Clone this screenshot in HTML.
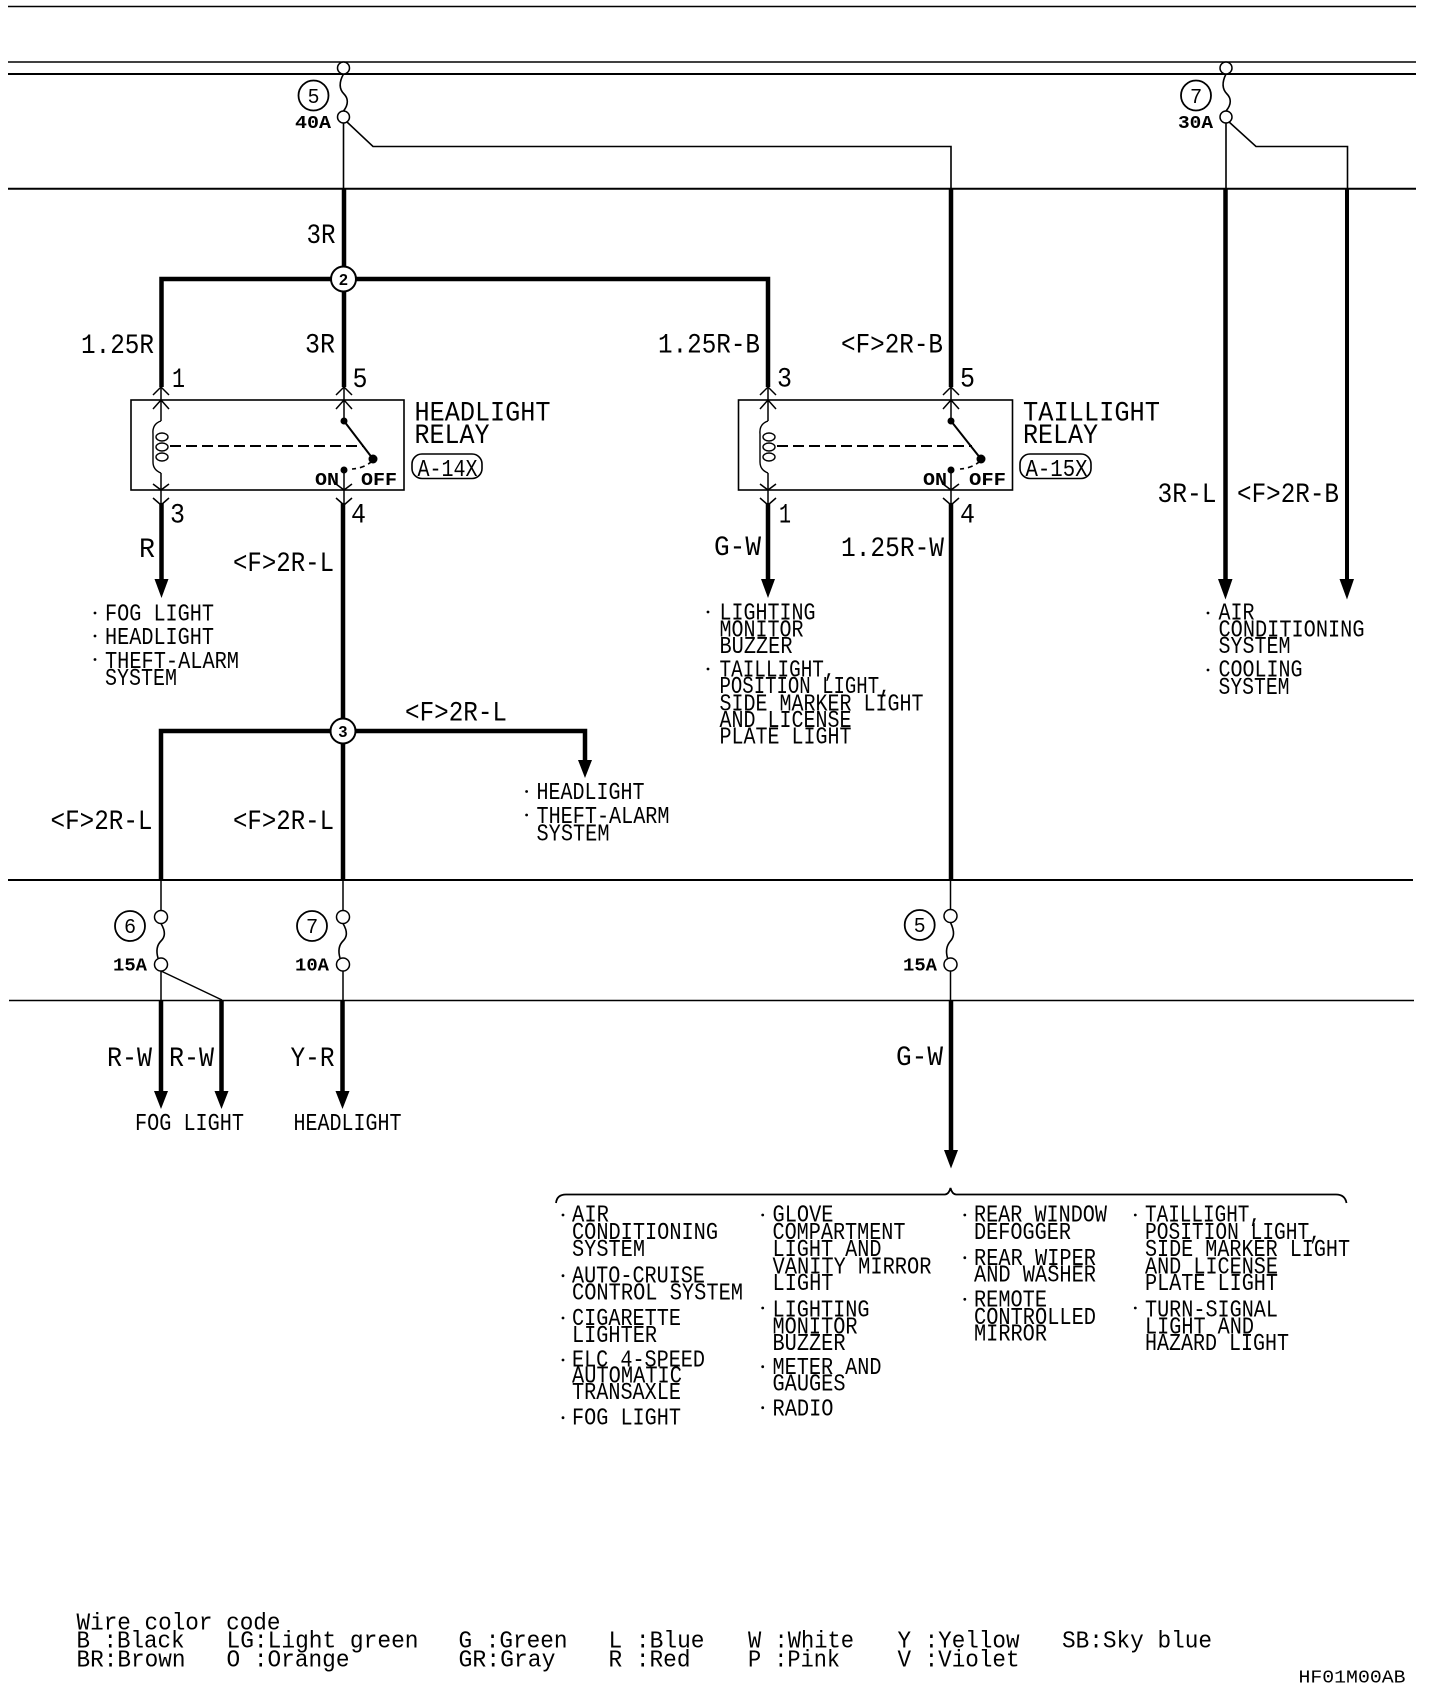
<!DOCTYPE html>
<html><head><meta charset="utf-8"><title>Headlight relay wiring diagram</title>
<style>
html,body{margin:0;padding:0;background:#fff}
svg{display:block}
text{font-family:"Liberation Mono",monospace;fill:#000}
.l{font-size:28px}
.s{font-size:24px}
.t{font-size:18px;font-weight:bold}
.c{font-size:20px;font-family:"Liberation Sans",sans-serif;text-anchor:middle}
</style></head><body>
<svg width="1440" height="1690" viewBox="0 0 1440 1690" xmlns="http://www.w3.org/2000/svg">
<rect width="1440" height="1690" fill="#fff"/>
<g stroke="#000" fill="none">
<!-- horizontal rules -->
<path d="M8 6.5H1416" stroke-width="1.6"/>
<path d="M8 62H1416" stroke-width="1.4"/>
<path d="M8 74H1416" stroke-width="2"/>
<path d="M8 188.7H1416" stroke-width="2"/>
<path d="M8 880H1413" stroke-width="2"/>
<path d="M9 1000.5H1414" stroke-width="1.6"/>
<!-- thin branches above -->
<path d="M343.5 123V188M347 122L373 146.5H951V188" stroke-width="1.6"/>
<path d="M1226 123V188M1228 121L1256 146.5H1347.5V188" stroke-width="1.6"/>
<!-- thick wires -->
<path d="M344 188V387" stroke-width="4.5"/>
<path d="M161.5 387V279H768V387" stroke-width="4.5"/>
<path d="M951 188V387" stroke-width="4.5"/>
<path d="M1225.5 188V585" stroke-width="4.5"/>
<path d="M1347 188V585" stroke-width="4"/>
<path d="M161.5 503V585" stroke-width="4.5"/>
<path d="M768 503V585" stroke-width="4.5"/>
<path d="M343 503V880" stroke-width="4.5"/>
<path d="M951 503V880" stroke-width="4.5"/>
<path d="M951 1000V1155" stroke-width="4.5"/>
<path d="M161 880V731H585V765" stroke-width="4.5"/>
<path d="M161 1000V1095" stroke-width="4.5"/>
<path d="M221.5 1000V1095" stroke-width="4.5"/>
<path d="M342.5 1000V1095" stroke-width="4.5"/>
<!-- lower thin wires -->
<path d="M161 880V911M161 971V1000M161 971L222 1000M343 880V911M343 971V1000M950.5 880V910M950.5 970V1000" stroke-width="1.5"/>
<!-- relay boxes -->
<rect x="131" y="400" width="273" height="90" stroke-width="1.6"/>
<rect x="738.5" y="400" width="274" height="90" stroke-width="1.6"/>
<!-- relay 1 internals -->
<path d="M161 387V421M161 473V503M344 387V421M344 470V503" stroke-width="1.5"/>
<path d="M161 421Q152 424 153 434V462Q153 470 161 473" stroke-width="1.4"/>
<ellipse cx="162" cy="437" rx="6" ry="4" stroke-width="1.4"/><ellipse cx="162" cy="447" rx="6" ry="4" stroke-width="1.4"/><ellipse cx="162" cy="457" rx="6" ry="4" stroke-width="1.4"/>
<path d="M344 421L373 459" stroke-width="2"/>
<path d="M170 446H363" stroke-width="2" stroke-dasharray="11 5"/>
<path d="M372 461Q365 468 352 469" stroke-width="1.6" stroke-dasharray="5 4"/>
<!-- relay 2 internals -->
<path d="M768 387V421M768 473V503M951 387V421M951 470V503" stroke-width="1.5"/>
<path d="M768 421Q759 424 760 434V462Q760 470 768 473" stroke-width="1.4"/>
<ellipse cx="769" cy="437" rx="6" ry="4" stroke-width="1.4"/><ellipse cx="769" cy="447" rx="6" ry="4" stroke-width="1.4"/><ellipse cx="769" cy="457" rx="6" ry="4" stroke-width="1.4"/>
<path d="M951 421L981 459" stroke-width="2"/>
<path d="M777 446H972" stroke-width="2" stroke-dasharray="11 5"/>
<path d="M980 461Q973 468 960 469" stroke-width="1.6" stroke-dasharray="5 4"/>
<!-- open arrows -->
<g stroke-width="1.5">
<path d="M153 395L161 387L169 395M153 409L161 400L169 409M153 484L161 490L169 484M153 498L161 505L169 498"/>
<path d="M336 395L344 387L352 395M336 409L344 400L352 409M336 484L344 490L352 484M336 498L344 505L352 498"/>
<path d="M760 395L768 387L776 395M760 409L768 400L776 409M760 484L768 490L776 484M760 498L768 505L776 498"/>
<path d="M943 395L951 387L959 395M943 409L951 400L959 409M943 484L951 490L959 484M943 498L951 505L959 498"/>
</g>
<!-- fuses -->
<g stroke-width="1.5" fill="#fff">
<circle cx="343.5" cy="68" r="6"/><circle cx="343.5" cy="117" r="6"/>
<circle cx="1226" cy="68" r="6"/><circle cx="1226" cy="117" r="6"/>
<circle cx="161" cy="917" r="6.5"/><circle cx="161" cy="964.5" r="6.5"/>
<circle cx="343" cy="917" r="6.5"/><circle cx="343" cy="964.5" r="6.5"/>
<circle cx="950.5" cy="916" r="6.5"/><circle cx="950.5" cy="964.5" r="6.5"/>
</g>
<g stroke-width="1.6">
<path d="M343.5 74C338 84 340 90 344 94S349 104 343.5 111"/>
<path d="M1226 74C1221 84 1223 90 1227 94S1232 104 1226 111"/>
<path d="M161 923.5C166 932 165 937 161 941S156 951 158 958"/>
<path d="M343 923.5C348 932 347 937 343 941S338 951 340 958"/>
<path d="M950.5 922.5C955 932 954 937 950.5 941S945.5 951 947.5 958"/>
</g>
<!-- number circles -->
<g stroke-width="1.8">
<circle cx="313.5" cy="95.5" r="15"/><circle cx="1196" cy="95.5" r="15"/>
<circle cx="130" cy="926" r="15"/><circle cx="312" cy="926" r="15"/><circle cx="919.7" cy="925" r="15"/>
</g>
<g stroke-width="2" fill="#fff">
<circle cx="343.5" cy="279" r="12.5"/><circle cx="343" cy="731" r="12.5"/>
</g>
<!-- connector tags -->
<rect x="412" y="454" width="70" height="24.5" rx="10" stroke-width="1.6"/>
<rect x="1020" y="454" width="71" height="24.5" rx="10" stroke-width="1.6"/>
<!-- brace -->
<path d="M556 1203Q557 1194.5 566 1194.5H945Q949 1194 950.5 1188Q952 1194 956 1194.5H1336Q1345 1194.5 1346.5 1203" stroke-width="1.8"/>
</g>
<!-- filled -->
<g fill="#000">
<circle cx="344" cy="421" r="3.5"/><circle cx="373" cy="459" r="4.5"/><circle cx="344" cy="470" r="3.5"/>
<circle cx="951" cy="421" r="3.5"/><circle cx="981" cy="459" r="4.5"/><circle cx="951" cy="470" r="3.5"/>
<polygon points="154.5,579 168.5,579 161.5,598"/>
<polygon points="761,579 775,579 768,598"/>
<polygon points="1218,579 1232.5,579 1225.5,599.5"/>
<polygon points="1339.5,579 1354,579 1347,599.5"/>
<polygon points="578,760 592,760 585,778"/>
<polygon points="154,1091 168,1091 161,1109"/>
<polygon points="214.5,1091 228.5,1091 221.5,1109"/>
<polygon points="335.5,1091 349.5,1091 342.5,1109"/>
<polygon points="944,1150 958,1150 951,1168.5"/>
<!-- bullets -->
<circle cx="95" cy="613" r="1.4"/><circle cx="95" cy="636" r="1.4"/><circle cx="95" cy="659.5" r="1.4"/>
<circle cx="526.6" cy="791.5" r="1.4"/><circle cx="526.6" cy="815" r="1.4"/>
<circle cx="708" cy="612" r="1.4"/><circle cx="708" cy="669" r="1.4"/>
<circle cx="1208" cy="613" r="1.4"/><circle cx="1208" cy="670" r="1.4"/>
<circle cx="563" cy="1215" r="1.4"/><circle cx="563" cy="1275.7" r="1.4"/><circle cx="563" cy="1318" r="1.4"/><circle cx="563" cy="1360" r="1.4"/><circle cx="563" cy="1417.7" r="1.4"/>
<circle cx="762.7" cy="1215" r="1.4"/><circle cx="762.7" cy="1308" r="1.4"/><circle cx="762.7" cy="1366.7" r="1.4"/><circle cx="762.7" cy="1407.7" r="1.4"/>
<circle cx="964.8" cy="1215" r="1.4"/><circle cx="964.8" cy="1257.7" r="1.4"/><circle cx="964.8" cy="1299.3" r="1.4"/>
<circle cx="1135.3" cy="1215" r="1.4"/><circle cx="1135.3" cy="1308" r="1.4"/>
</g>
<!-- circle numbers -->
<text class="c" x="313.5" y="103">5</text>
<text class="c" x="1196" y="103">7</text>
<text class="c" x="130" y="933">6</text>
<text class="c" x="312" y="933">7</text>
<text class="c" x="919.7" y="932">5</text>
<text class="c" style="font-size:16px;font-weight:bold" x="343.5" y="285">2</text>
<text class="c" style="font-size:16px;font-weight:bold" x="343" y="737">3</text>
<!-- amp labels -->
<text class="t" x="295" y="128" textLength="36" lengthAdjust="spacingAndGlyphs">40A</text>
<text class="t" x="1178" y="128" textLength="35" lengthAdjust="spacingAndGlyphs">30A</text>
<text class="t" x="113" y="970.5" textLength="34" lengthAdjust="spacingAndGlyphs">15A</text>
<text class="t" x="295" y="970.5" textLength="34" lengthAdjust="spacingAndGlyphs">10A</text>
<text class="t" x="903" y="970.5" textLength="34" lengthAdjust="spacingAndGlyphs">15A</text>
<text class="t" x="315" y="485" textLength="24" lengthAdjust="spacingAndGlyphs">ON</text>
<text class="t" x="361" y="485" textLength="36" lengthAdjust="spacingAndGlyphs">OFF</text>
<text class="t" x="923" y="485" textLength="24" lengthAdjust="spacingAndGlyphs">ON</text>
<text class="t" x="969" y="485" textLength="37" lengthAdjust="spacingAndGlyphs">OFF</text>
<!-- wire labels -->
<text class="l" x="306.5" y="243" textLength="29" lengthAdjust="spacingAndGlyphs">3R</text>
<text class="l" x="81" y="353" textLength="73" lengthAdjust="spacingAndGlyphs">1.25R</text>
<text class="l" x="305" y="352.5" textLength="30" lengthAdjust="spacingAndGlyphs">3R</text>
<text class="l" x="658" y="352.5" textLength="102" lengthAdjust="spacingAndGlyphs">1.25R-B</text>
<text class="l" x="841" y="352.5" textLength="102" lengthAdjust="spacingAndGlyphs">&lt;F&gt;2R-B</text>
<text class="l" x="172" y="387" textLength="13" lengthAdjust="spacingAndGlyphs">1</text>
<text class="l" x="352.5" y="387" textLength="15" lengthAdjust="spacingAndGlyphs">5</text>
<text class="l" x="777" y="386.5" textLength="15" lengthAdjust="spacingAndGlyphs">3</text>
<text class="l" x="960" y="386.5" textLength="15" lengthAdjust="spacingAndGlyphs">5</text>
<text class="l" x="170" y="522.5" textLength="15" lengthAdjust="spacingAndGlyphs">3</text>
<text class="l" x="351" y="522.5" textLength="15" lengthAdjust="spacingAndGlyphs">4</text>
<text class="l" x="779" y="522.5" textLength="12" lengthAdjust="spacingAndGlyphs">1</text>
<text class="l" x="960" y="522.5" textLength="15" lengthAdjust="spacingAndGlyphs">4</text>
<text class="l" x="139" y="557" textLength="16" lengthAdjust="spacingAndGlyphs">R</text>
<text class="l" x="233" y="571" textLength="101" lengthAdjust="spacingAndGlyphs">&lt;F&gt;2R-L</text>
<text class="l" x="714" y="555" textLength="47" lengthAdjust="spacingAndGlyphs">G-W</text>
<text class="l" x="841" y="556" textLength="103" lengthAdjust="spacingAndGlyphs">1.25R-W</text>
<text class="l" x="1157.5" y="502" textLength="59" lengthAdjust="spacingAndGlyphs">3R-L</text>
<text class="l" x="1237" y="502" textLength="102" lengthAdjust="spacingAndGlyphs">&lt;F&gt;2R-B</text>
<text class="l" x="405" y="720.7" textLength="102" lengthAdjust="spacingAndGlyphs">&lt;F&gt;2R-L</text>
<text class="l" x="50.5" y="829" textLength="102" lengthAdjust="spacingAndGlyphs">&lt;F&gt;2R-L</text>
<text class="l" x="233" y="829" textLength="101" lengthAdjust="spacingAndGlyphs">&lt;F&gt;2R-L</text>
<text class="l" x="107" y="1066" textLength="45" lengthAdjust="spacingAndGlyphs">R-W</text>
<text class="l" x="169" y="1066" textLength="45" lengthAdjust="spacingAndGlyphs">R-W</text>
<text class="l" x="290.5" y="1066" textLength="44" lengthAdjust="spacingAndGlyphs">Y-R</text>
<text class="l" x="896" y="1065" textLength="47" lengthAdjust="spacingAndGlyphs">G-W</text>
<!-- relay names -->
<text class="l" x="414.5" y="420.7" textLength="136" lengthAdjust="spacingAndGlyphs">HEADLIGHT</text>
<text class="l" x="414.5" y="443" textLength="75" lengthAdjust="spacingAndGlyphs">RELAY</text>
<text class="l" x="1023" y="420.7" textLength="137" lengthAdjust="spacingAndGlyphs">TAILLIGHT</text>
<text class="l" x="1023" y="443" textLength="75" lengthAdjust="spacingAndGlyphs">RELAY</text>
<text class="s" x="417.5" y="476" textLength="60" lengthAdjust="spacingAndGlyphs">A-14X</text>
<text class="s" x="1025.5" y="476" textLength="62" lengthAdjust="spacingAndGlyphs">A-15X</text>
<!-- list: fog -->
<text class="s" x="105" y="620.5" textLength="109" lengthAdjust="spacingAndGlyphs">FOG LIGHT</text>
<text class="s" x="105" y="644" textLength="109" lengthAdjust="spacingAndGlyphs">HEADLIGHT</text>
<text class="s" x="105" y="668" textLength="134" lengthAdjust="spacingAndGlyphs">THEFT-ALARM</text>
<text class="s" x="105" y="684.8" textLength="72" lengthAdjust="spacingAndGlyphs">SYSTEM</text>
<text class="s" x="536.5" y="799" textLength="108" lengthAdjust="spacingAndGlyphs">HEADLIGHT</text>
<text class="s" x="536.5" y="823" textLength="133" lengthAdjust="spacingAndGlyphs">THEFT-ALARM</text>
<text class="s" x="536.5" y="840.5" textLength="73" lengthAdjust="spacingAndGlyphs">SYSTEM</text>
<text class="s" x="135" y="1130" textLength="109" lengthAdjust="spacingAndGlyphs">FOG LIGHT</text>
<text class="s" x="293.5" y="1130" textLength="108" lengthAdjust="spacingAndGlyphs">HEADLIGHT</text>
<!-- list: lighting -->
<text class="s" x="719.5" y="619.3" textLength="96" lengthAdjust="spacingAndGlyphs">LIGHTING</text>
<text class="s" x="719.5" y="636.5" textLength="84" lengthAdjust="spacingAndGlyphs">MONITOR</text>
<text class="s" x="719.5" y="653" textLength="73" lengthAdjust="spacingAndGlyphs">BUZZER</text>
<text class="s" x="719.5" y="676.7" textLength="116" lengthAdjust="spacingAndGlyphs">TAILLIGHT,</text>
<text class="s" x="719.5" y="693" textLength="171" lengthAdjust="spacingAndGlyphs">POSITION LIGHT,</text>
<text class="s" x="719.5" y="710.4" textLength="204" lengthAdjust="spacingAndGlyphs">SIDE MARKER LIGHT</text>
<text class="s" x="719.5" y="727" textLength="132" lengthAdjust="spacingAndGlyphs">AND LICENSE</text>
<text class="s" x="719.5" y="743.7" textLength="132" lengthAdjust="spacingAndGlyphs">PLATE LIGHT</text>
<!-- list: AC -->
<text class="s" x="1218.5" y="619.3" textLength="36" lengthAdjust="spacingAndGlyphs">AIR</text>
<text class="s" x="1218.5" y="636.5" textLength="146" lengthAdjust="spacingAndGlyphs">CONDITIONING</text>
<text class="s" x="1218.5" y="653" textLength="72" lengthAdjust="spacingAndGlyphs">SYSTEM</text>
<text class="s" x="1218.5" y="676.7" textLength="84" lengthAdjust="spacingAndGlyphs">COOLING</text>
<text class="s" x="1218.5" y="694" textLength="71" lengthAdjust="spacingAndGlyphs">SYSTEM</text>
<!-- bottom col 1 -->
<text class="s" x="572" y="1221.7" textLength="37" lengthAdjust="spacingAndGlyphs">AIR</text>
<text class="s" x="572" y="1239" textLength="146" lengthAdjust="spacingAndGlyphs">CONDITIONING</text>
<text class="s" x="572" y="1256" textLength="73" lengthAdjust="spacingAndGlyphs">SYSTEM</text>
<text class="s" x="572" y="1282.3" textLength="133" lengthAdjust="spacingAndGlyphs">AUTO-CRUISE</text>
<text class="s" x="572" y="1299.3" textLength="171" lengthAdjust="spacingAndGlyphs">CONTROL SYSTEM</text>
<text class="s" x="572" y="1325" textLength="109" lengthAdjust="spacingAndGlyphs">CIGARETTE</text>
<text class="s" x="572" y="1342" textLength="85" lengthAdjust="spacingAndGlyphs">LIGHTER</text>
<text class="s" x="572" y="1366.7" textLength="133" lengthAdjust="spacingAndGlyphs">ELC 4-SPEED</text>
<text class="s" x="572" y="1382.7" textLength="110" lengthAdjust="spacingAndGlyphs">AUTOMATIC</text>
<text class="s" x="572" y="1399" textLength="109" lengthAdjust="spacingAndGlyphs">TRANSAXLE</text>
<text class="s" x="572" y="1424.3" textLength="109" lengthAdjust="spacingAndGlyphs">FOG LIGHT</text>
<!-- bottom col 2 -->
<text class="s" x="772.5" y="1221.7" textLength="61" lengthAdjust="spacingAndGlyphs">GLOVE</text>
<text class="s" x="772.5" y="1239" textLength="133" lengthAdjust="spacingAndGlyphs">COMPARTMENT</text>
<text class="s" x="772.5" y="1256" textLength="109" lengthAdjust="spacingAndGlyphs">LIGHT AND</text>
<text class="s" x="772.5" y="1273.3" textLength="159" lengthAdjust="spacingAndGlyphs">VANITY MIRROR</text>
<text class="s" x="772.5" y="1290" textLength="61" lengthAdjust="spacingAndGlyphs">LIGHT</text>
<text class="s" x="772.5" y="1316.7" textLength="97" lengthAdjust="spacingAndGlyphs">LIGHTING</text>
<text class="s" x="772.5" y="1333.3" textLength="85" lengthAdjust="spacingAndGlyphs">MONITOR</text>
<text class="s" x="772.5" y="1350" textLength="73" lengthAdjust="spacingAndGlyphs">BUZZER</text>
<text class="s" x="772.5" y="1374" textLength="109" lengthAdjust="spacingAndGlyphs">METER AND</text>
<text class="s" x="772.5" y="1390.7" textLength="73" lengthAdjust="spacingAndGlyphs">GAUGES</text>
<text class="s" x="772.5" y="1415.7" textLength="61" lengthAdjust="spacingAndGlyphs">RADIO</text>
<!-- bottom col 3 -->
<text class="s" x="974" y="1221.7" textLength="133" lengthAdjust="spacingAndGlyphs">REAR WINDOW</text>
<text class="s" x="974" y="1239" textLength="97" lengthAdjust="spacingAndGlyphs">DEFOGGER</text>
<text class="s" x="974" y="1265" textLength="122" lengthAdjust="spacingAndGlyphs">REAR WIPER</text>
<text class="s" x="974" y="1281.7" textLength="122" lengthAdjust="spacingAndGlyphs">AND WASHER</text>
<text class="s" x="974" y="1306.7" textLength="73" lengthAdjust="spacingAndGlyphs">REMOTE</text>
<text class="s" x="974" y="1324" textLength="122" lengthAdjust="spacingAndGlyphs">CONTROLLED</text>
<text class="s" x="974" y="1340.7" textLength="73" lengthAdjust="spacingAndGlyphs">MIRROR</text>
<!-- bottom col 4 -->
<text class="s" x="1145" y="1221.7" textLength="116" lengthAdjust="spacingAndGlyphs">TAILLIGHT,</text>
<text class="s" x="1145" y="1239" textLength="176" lengthAdjust="spacingAndGlyphs">POSITION LIGHT,</text>
<text class="s" x="1145" y="1256" textLength="205" lengthAdjust="spacingAndGlyphs">SIDE MARKER LIGHT</text>
<text class="s" x="1145" y="1273.3" textLength="133" lengthAdjust="spacingAndGlyphs">AND LICENSE</text>
<text class="s" x="1145" y="1290" textLength="133" lengthAdjust="spacingAndGlyphs">PLATE LIGHT</text>
<text class="s" x="1145" y="1316.7" textLength="133" lengthAdjust="spacingAndGlyphs">TURN-SIGNAL</text>
<text class="s" x="1145" y="1333.3" textLength="109" lengthAdjust="spacingAndGlyphs">LIGHT AND</text>
<text class="s" x="1145" y="1350" textLength="144" lengthAdjust="spacingAndGlyphs">HAZARD LIGHT</text>
<!-- legend -->
<text class="s" x="76.5" y="1629.3" textLength="204" lengthAdjust="spacingAndGlyphs">Wire color code</text>
<text class="s" x="76.5" y="1647.7" textLength="108" lengthAdjust="spacingAndGlyphs">B :Black</text>
<text class="s" x="226.5" y="1647.7" textLength="192" lengthAdjust="spacingAndGlyphs">LG:Light green</text>
<text class="s" x="458.5" y="1647.7" textLength="109" lengthAdjust="spacingAndGlyphs">G :Green</text>
<text class="s" x="608.5" y="1647.7" textLength="96" lengthAdjust="spacingAndGlyphs">L :Blue</text>
<text class="s" x="748" y="1647.7" textLength="106" lengthAdjust="spacingAndGlyphs">W :White</text>
<text class="s" x="897.5" y="1647.7" textLength="122" lengthAdjust="spacingAndGlyphs">Y :Yellow</text>
<text class="s" x="1062" y="1647.7" textLength="150" lengthAdjust="spacingAndGlyphs">SB:Sky blue</text>
<text class="s" x="76.5" y="1666.7" textLength="109" lengthAdjust="spacingAndGlyphs">BR:Brown</text>
<text class="s" x="226.5" y="1666.7" textLength="123" lengthAdjust="spacingAndGlyphs">O :Orange</text>
<text class="s" x="458.5" y="1666.7" textLength="97" lengthAdjust="spacingAndGlyphs">GR:Gray</text>
<text class="s" x="608.5" y="1666.7" textLength="82" lengthAdjust="spacingAndGlyphs">R :Red</text>
<text class="s" x="748" y="1666.7" textLength="92" lengthAdjust="spacingAndGlyphs">P :Pink</text>
<text class="s" x="897.5" y="1666.7" textLength="122" lengthAdjust="spacingAndGlyphs">V :Violet</text>
<text class="t" style="font-weight:normal" x="1298.5" y="1682.3" textLength="107" lengthAdjust="spacingAndGlyphs">HF01M00AB</text>
</svg>
</body></html>
